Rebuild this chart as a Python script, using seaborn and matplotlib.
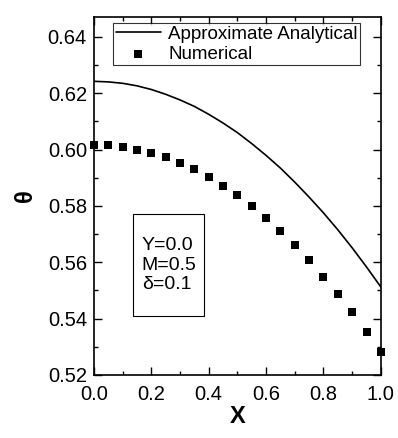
import numpy as np
import pandas as pd
import seaborn as sns
import matplotlib.pyplot as plt
from matplotlib.patches import Rectangle
from matplotlib.ticker import MultipleLocator

# Data
x_num = [0.00, 0.05, 0.10, 0.15, 0.20, 0.25, 0.30, 0.35, 0.40, 0.45, 0.50,
         0.55, 0.60, 0.65, 0.70, 0.75, 0.80, 0.85, 0.90, 0.95, 1.00]
theta_num = [0.6015, 0.6017, 0.6010, 0.6000, 0.5988, 0.5973, 0.5953, 0.5930,
             0.5904, 0.5872, 0.5838, 0.5800, 0.5758, 0.5711, 0.5662, 0.5608,
             0.5549, 0.5488, 0.5423, 0.5354, 0.5282]
x_ana = x_num
theta_ana = [0.6242, 0.6240, 0.6235, 0.6226, 0.6213, 0.6196, 0.6176, 0.6153,
             0.6125, 0.6094, 0.6060, 0.6021, 0.5979, 0.5934, 0.5884, 0.5831,
             0.5775, 0.5715, 0.5651, 0.5583, 0.5512]
y_ticks = [0.52, 0.54, 0.56, 0.58, 0.60, 0.62, 0.64]
x_ticks = [0.0, 0.2, 0.4, 0.6, 0.8, 1.0]

ana = pd.DataFrame({'X': x_ana, 'theta': theta_ana})
num = pd.DataFrame({'X': x_num, 'theta': theta_num})

sns.set_style("ticks")
plt.rcParams['font.family'] = ['Liberation Sans', 'DejaVu Sans']
plt.rcParams['text.color'] = 'black'
plt.rcParams['xtick.color'] = 'black'
plt.rcParams['ytick.color'] = 'black'
plt.rcParams['axes.labelcolor'] = 'black'
plt.rcParams['axes.edgecolor'] = 'black'

fig = plt.figure(figsize=(3.98, 4.38), dpi=100)
ax = fig.add_axes([0.236, 0.144, 0.721, 0.817])

sns.lineplot(data=ana, x='X', y='theta', color='black', linewidth=1.2,
             ax=ax, label='Approximate Analytical')
sns.scatterplot(data=num, x='X', y='theta', color='black', marker='s',
                s=38, edgecolor='black', linewidth=0, ax=ax,
                label='Numerical', clip_on=False, zorder=3)

ax.set_xlim(0.0, 1.0)
ax.set_ylim(0.52, 0.647)
ax.set_xticks(x_ticks)
ax.set_xticklabels([f"{v:.1f}" for v in x_ticks])
ax.set_yticks(y_ticks)
ax.set_yticklabels([f"{v:.2f}" for v in y_ticks])
ax.xaxis.set_minor_locator(MultipleLocator(0.1))
ax.yaxis.set_minor_locator(MultipleLocator(0.01))
ax.tick_params(which='both', direction='in', top=True, right=True,
               labelsize=14.5, width=1)
ax.tick_params(which='major', length=6)
ax.tick_params(which='minor', length=3)
ax.tick_params(axis='x', pad=7)
ax.tick_params(axis='y', pad=5)
for sp in ax.spines.values():
    sp.set_linewidth(1.2)

ax.set_xlabel("X", fontsize=17, fontweight='bold', labelpad=1)
ax.set_ylabel("θ", fontsize=17, fontweight='bold', labelpad=8)

leg = ax.legend(loc='upper left', bbox_to_anchor=(0.066, 0.984), fontsize=13.5,
                frameon=True, fancybox=False, edgecolor='black',
                handlelength=2.4, handletextpad=0.4, borderpad=0.15,
                labelspacing=0.15, borderaxespad=0)
leg.get_frame().set_linewidth(0.8)

# parameter box
ax.add_patch(Rectangle((0.136, 0.165), 0.247, 0.285, transform=ax.transAxes,
                       facecolor='white', edgecolor='black', linewidth=0.8,
                       zorder=4))
ax.text(0.167, 0.307, "Y=0.0\nM=0.5\nδ=0.1", transform=ax.transAxes,
        fontsize=14, va='center', ha='left', linespacing=1.22, zorder=5)

plt.savefig("out.png", dpi=100)
